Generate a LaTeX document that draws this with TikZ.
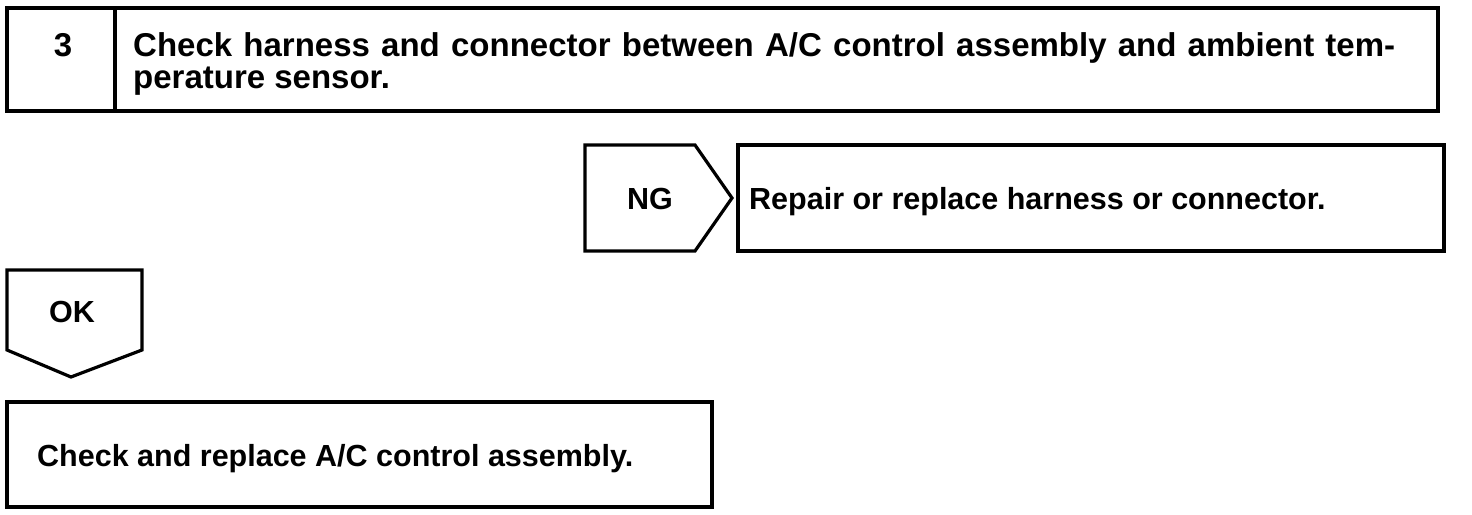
\documentclass[tikz,border=0pt]{standalone}
\usepackage{fontspec}
\setmainfont{Liberation Sans}
\begin{document}
\begin{tikzpicture}[x=1pt,y=-1pt,
  frame/.style={line width=3.2pt,line join=miter},
  lbl/.style={font=\fontsize{30.5}{30}\selectfont\bfseries,inner sep=0pt,anchor=base west},
  biglbl/.style={lbl,font=\fontsize{33}{30}\selectfont\bfseries}]
\useasboundingbox (0,0) rectangle (1472,514);
% top box
\draw[frame] (7,8) rectangle (1438,111);
\draw[frame] (115,8) -- (115,111);
\node[biglbl,anchor=base] (num) at (63,56) {3};
\node[biglbl] (l1) at (133,56) {\makebox[1262pt][s]{Check harness and connector between A/C control assembly and ambient tem-}};
\node[biglbl] (l2) at (133,88) {perature sensor.};
% NG
\draw[frame] (585,145) -- (695,145) -- (732,198) -- (695,251) -- (585,251) -- cycle;
\node[lbl,anchor=base] (ng) at (650,209) {NG};
\draw[frame] (738,145) rectangle (1444,251);
\node[lbl] (rep) at (749,209) {Repair or replace harness or connector.};
% OK
\draw[frame] (7,270) -- (142,270) -- (142,350) -- (71,377) -- (7,350) -- cycle;
\node[lbl,anchor=base] (ok) at (72,322) {OK};
\draw[frame] (7,402) rectangle (712,507);
\node[lbl] (chk) at (37,466) {Check and replace A/C control assembly.};
\end{tikzpicture}
\end{document}
